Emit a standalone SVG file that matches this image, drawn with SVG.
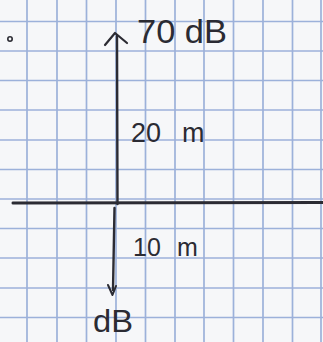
<svg xmlns="http://www.w3.org/2000/svg" width="323" height="342" viewBox="0 0 323 342">
<defs>
<style>
.grid line{stroke:#9cb1da;stroke-width:1.7}
.ink{stroke:#2b2b33;fill:none;stroke-linecap:round;stroke-linejoin:round}
.lbl{font-family:"Liberation Sans","DejaVu Sans",sans-serif;fill:#2b2b33}
</style>
</defs>
<rect width="323" height="342" fill="#f6f7f9"/>
<g id="grid" class="grid">
<line x1="27" y1="0" x2="27" y2="342"/>
<line x1="57" y1="0" x2="57" y2="342"/>
<line x1="86.5" y1="0" x2="86.5" y2="342"/>
<line x1="116" y1="0" x2="116" y2="342"/>
<line x1="145.5" y1="0" x2="145.5" y2="342"/>
<line x1="175" y1="0" x2="175" y2="342"/>
<line x1="204" y1="0" x2="204" y2="342"/>
<line x1="233.5" y1="0" x2="233.5" y2="342"/>
<line x1="263" y1="0" x2="263" y2="342"/>
<line x1="292.5" y1="0" x2="292.5" y2="342"/>
<line x1="321" y1="0" x2="321" y2="342"/>
<line x1="0" y1="21.5" x2="323" y2="21.5"/>
<line x1="0" y1="51" x2="323" y2="51"/>
<line x1="0" y1="80.5" x2="323" y2="80.5"/>
<line x1="0" y1="110" x2="323" y2="110"/>
<line x1="0" y1="140" x2="323" y2="140"/>
<line x1="0" y1="169.5" x2="323" y2="169.5"/>
<line x1="0" y1="199" x2="323" y2="199"/>
<line x1="0" y1="228.5" x2="323" y2="228.5"/>
<line x1="0" y1="258" x2="323" y2="258"/>
<line x1="0" y1="288" x2="323" y2="288"/>
<line x1="0" y1="317.5" x2="323" y2="317.5"/>
</g>
<g id="connectors">
<path class="ink" stroke-width="2.4" d="M117 36 L117.5 204"/>
<path class="ink" stroke-width="2.2" d="M105 45 L115 33 L127 43"/>
<path class="ink" stroke-width="3" d="M13 203 L323 202.5"/>
<path class="ink" stroke-width="2.4" d="M114.5 208 L113 290"/>
<path class="ink" stroke-width="2" d="M108 285 L112.5 295 L116 286"/>
</g>
<g id="dot"><circle cx="10" cy="39" r="2.2" class="ink" stroke-width="1.6"/></g>
<g id="label-70dB"><text class="lbl" x="137" y="43" font-size="34" textLength="90" lengthAdjust="spacingAndGlyphs">70 dB</text></g>
<g id="label-20m"><text class="lbl" x="131" y="142" font-size="27">20 <tspan x="182">m</tspan></text></g>
<g id="label-10m"><text class="lbl" x="133" y="256" font-size="25">10 <tspan x="177">m</tspan></text></g>
<g id="label-dB"><text class="lbl" x="93" y="332" font-size="32" textLength="40" lengthAdjust="spacingAndGlyphs">dB</text></g>
</svg>
